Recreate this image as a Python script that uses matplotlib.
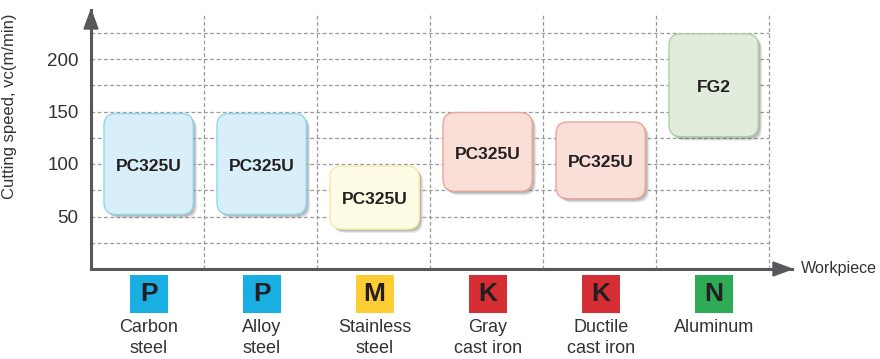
import matplotlib
matplotlib.use("Agg")
import matplotlib.pyplot as plt
from matplotlib.patches import FancyBboxPatch, Rectangle, Polygon

plt.rcParams['font.family'] = ['Liberation Sans', 'DejaVu Sans']

# ---- data ----
categories = ["Carbon\nsteel", "Alloy\nsteel", "Stainless\nsteel",
              "Gray\ncast iron", "Ductile\ncast iron", "Aluminum"]
iso_groups = ["P", "P", "M", "K", "K", "N"]
grades = ["PC325U", "PC325U", "PC325U", "PC325U", "PC325U", "FG2"]
vc_low = [52, 52, 38, 74, 67, 126]
vc_high = [148, 148, 98, 149, 140, 224]
yticks = [50, 100, 150, 200]
grid_y = [25, 50, 75, 100, 125, 150, 175, 200, 225]

# ---- styles ----
iso_colors = {"P": "#1aafe3", "M": "#fdcd33", "K": "#d52f35", "N": "#2eab57"}
box_fill = {"P": "#d8eff9", "M": "#fefce4", "K": "#f9dfd8", "N": "#e2ecdd"}
box_edge = {"P": "#8fd6f1", "M": "#f3eaa8", "K": "#eaa698", "N": "#acd1a2"}
axis_col = "#58585a"
text_col = "#333333"

W, H = 880, 359
fig = plt.figure(figsize=(W / 100, H / 100), dpi=100)
x0px, y0px = 91, 269          # origin in pixels (from top)
xr_px, yt_px = 792, 10        # arrow tips
px_per_x = 113.0
px_per_y = 1.05
ax = fig.add_axes([x0px / W, (H - y0px) / H, (xr_px - x0px) / W, (y0px - yt_px) / H])
xmax = (xr_px - x0px) / px_per_x
ymax = (y0px - yt_px) / px_per_y
ax.set_xlim(0, xmax)
ax.set_ylim(0, ymax)

ncol = len(categories)
# grid
ax.hlines(grid_y, 0, ncol, colors="#9a9a9a", linestyles=(0, (3, 2)), linewidth=0.9, zorder=1)
vtop = (y0px - 14) / px_per_y
ax.vlines(range(1, ncol + 1), 0, vtop, colors="#9a9a9a", linestyles=(0, (3, 2)), linewidth=0.9, zorder=1)

# spines
for s in ["top", "right"]:
    ax.spines[s].set_visible(False)
for s in ["left", "bottom"]:
    ax.spines[s].set_color(axis_col)
    ax.spines[s].set_linewidth(2.2)
    ax.spines[s].set_zorder(5)

# arrow heads
ux = 1 / px_per_x
uy = 1 / px_per_y
top = Polygon([(0, ymax), (-7 * ux, ymax - 19 * uy), (7 * ux, ymax - 19 * uy)],
              closed=True, color=axis_col, clip_on=False, zorder=6)
right = Polygon([(xmax, 0), (xmax - 19 * ux, 7 * uy), (xmax - 19 * ux, -7 * uy)],
                closed=True, color=axis_col, clip_on=False, zorder=6)
ax.add_patch(top)
ax.add_patch(right)

ax.set_xticks([])
ax.set_yticks(yticks)
ax.tick_params(axis="y", length=0, pad=9, labelsize=13.5, labelcolor=text_col)
ax.set_ylabel("Cutting speed, vc(m/min)", fontsize=12, color=text_col)
ax.yaxis.set_label_coords((17 - x0px) / (xr_px - x0px), (y0px - 106) / (y0px - yt_px))

aspect = px_per_x / px_per_y
bw = 0.79
rs = 12 / px_per_x
for i in range(ncol):
    g = iso_groups[i]
    xl = i + 0.51 - bw / 2
    lo, hi = vc_low[i], vc_high[i]
    # soft shadow
    for dx, a in [(4, 0.10), (3, 0.16), (2, 0.22)]:
        sh = FancyBboxPatch((xl + dx * ux, lo - dx * uy), bw, hi - lo,
                            boxstyle=f"round,pad=0,rounding_size={rs}",
                            mutation_aspect=aspect, facecolor="#555555",
                            edgecolor="none", alpha=a, zorder=2)
        ax.add_patch(sh)
    box = FancyBboxPatch((xl, lo), bw, hi - lo,
                         boxstyle=f"round,pad=0,rounding_size={rs}",
                         mutation_aspect=aspect, facecolor=box_fill[g],
                         edgecolor=box_edge[g], linewidth=1.0, zorder=3)
    ax.add_patch(box)
    ax.text(i + 0.51, (lo + hi) / 2 - 2, grades[i], ha="center", va="center",
            fontsize=12.5, fontweight="bold", color="#231f20", zorder=4)

    # ISO badge
    bs = 38
    cx = i + 0.51
    badge = Rectangle((cx - bs / 2 * ux, (y0px - 313) * uy), bs * ux, bs * uy,
                      facecolor=iso_colors[g], edgecolor="none", clip_on=False)
    ax.add_patch(badge)
    ax.text(cx, (y0px - 294) * uy, g, ha="center", va="center", fontsize=19,
            fontweight="bold", color="#231f20", clip_on=False)
    ax.text(cx, (y0px - 319) * uy, categories[i], ha="center", va="top",
            fontsize=13, color=text_col, linespacing=1.32, clip_on=False)

fig.text(801 / W, 1 - 269 / H, "Workpiece", ha="left", va="center",
         fontsize=11.6, color=text_col)

fig.savefig("out.png", dpi=100)
